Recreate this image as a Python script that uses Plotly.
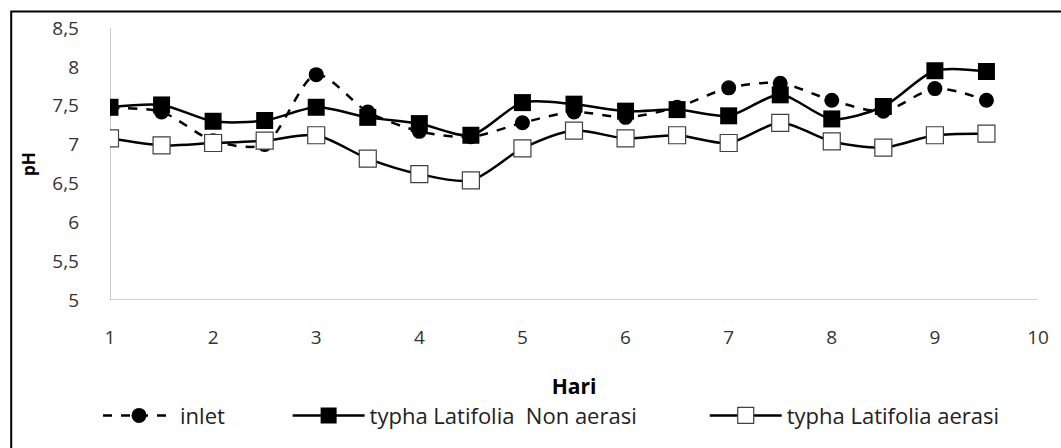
import plotly.graph_objects as go

hari = [1, 1.5, 2, 2.5, 3, 3.5, 4, 4.5, 5, 5.5, 6, 6.5, 7, 7.5, 8, 8.5, 9, 9.5]
inlet = [7.47, 7.42, 7.05, 7.0, 7.90, 7.42, 7.17, 7.10, 7.28, 7.42, 7.35, 7.48, 7.73, 7.79, 7.57, 7.43, 7.72, 7.57]
non_aerasi = [7.48, 7.51, 7.30, 7.31, 7.48, 7.35, 7.27, 7.12, 7.54, 7.52, 7.43, 7.45, 7.37, 7.64, 7.33, 7.49, 7.95, 7.94]
aerasi = [7.08, 6.99, 7.02, 7.05, 7.12, 6.82, 6.62, 6.54, 6.95, 7.18, 7.08, 7.12, 7.02, 7.28, 7.04, 6.96, 7.12, 7.14]
y_ticks = [5, 5.5, 6, 6.5, 7, 7.5, 8, 8.5]
x_ticks = [1, 2, 3, 4, 5, 6, 7, 8, 9, 10]

FONT = "Open Sans"
W, H = 1061, 448
L, R, T, B = 110, 21, 28, 140
PW, PH = W - L - R, H - T - B

def px(x):
    return (x - L) / PW

def py(y):
    return (H - B - y) / PH

fig = go.Figure()
fig.add_trace(go.Scatter(
    x=hari, y=inlet, name="inlet", mode="lines+markers",
    line=dict(color="black", width=2.5, dash="dash", shape="spline", smoothing=0.8),
    marker=dict(symbol="circle", size=15, color="black"),
    legend="legend", showlegend=True))
fig.add_trace(go.Scatter(
    x=hari, y=non_aerasi, name="typha Latifolia  Non aerasi", mode="lines+markers",
    line=dict(color="black", width=2.5, shape="spline", smoothing=0.8),
    marker=dict(symbol="square", size=17, color="black"),
    legend="legend2", showlegend=True))
fig.add_trace(go.Scatter(
    x=hari, y=aerasi, name="typha Latifolia aerasi", mode="lines+markers",
    line=dict(color="black", width=2.5, shape="spline", smoothing=0.8),
    marker=dict(symbol="square", size=17, color="white", line=dict(color="#404040", width=1.2)),
    legend="legend3", showlegend=True))

leg_common = dict(orientation="h", yanchor="middle", xanchor="left",
                  font=dict(family=FONT, size=22, color="#222222"),
                  bgcolor="rgba(0,0,0,0)", itemwidth=72, borderwidth=0)
fig.update_layout(
    width=W, height=H,
    margin=dict(l=L, r=R, t=T, b=B),
    paper_bgcolor="white", plot_bgcolor="white",
    showlegend=True,
    separators=",.",
    font=dict(family=FONT, size=18, color="#333333"),
    xaxis=dict(range=[1, 10], tickvals=x_ticks, showgrid=False, zeroline=False,
               showline=False, ticks="", ticklabelstandoff=24,
               tickfont=dict(family=FONT, size=19, color="#333333"),
               title=dict(text="<b>Hari</b>", font=dict(family=FONT, size=21, color="black"), standoff=30)),
    yaxis=dict(range=[5, 8.5], tickvals=y_ticks, showgrid=False, zeroline=False,
               showline=False, ticks="", ticklabelstandoff=30,
               tickfont=dict(family=FONT, size=19, color="#333333"),
               title=dict(text="<b>pH</b>", font=dict(family=FONT, size=17, color="black"), standoff=12)),
    legend=dict(x=px(98), y=py(427), **leg_common),
    legend2=dict(x=px(288), y=py(427), **leg_common),
    legend3=dict(x=px(706), y=py(427), **leg_common),
    shapes=[
        dict(type="line", xref="x", yref="y", x0=1, x1=10, y0=5, y1=5,
             line=dict(color="#a6a6a6", width=1.2), layer="below"),
        dict(type="line", xref="x", yref="y", x0=1, x1=1, y0=5, y1=8.5,
             line=dict(color="#a6a6a6", width=1.2), layer="below"),
        dict(type="rect", xref="paper", yref="paper", x0=px(11), x1=px(1075),
             y0=py(470), y1=py(11), line=dict(color="black", width=2), layer="below"),
    ],
)
fig.write_html(
    "out.html",
    config={"displayModeBar": False},
    post_script=("document.documentElement.style.margin='0';"
                 "document.documentElement.style.height='448px';"
                 "document.documentElement.style.overflow='hidden';"
                 "document.body.style.margin='0';"
                 "document.body.style.height='448px';"
                 "document.body.style.overflow='hidden';"),
)
